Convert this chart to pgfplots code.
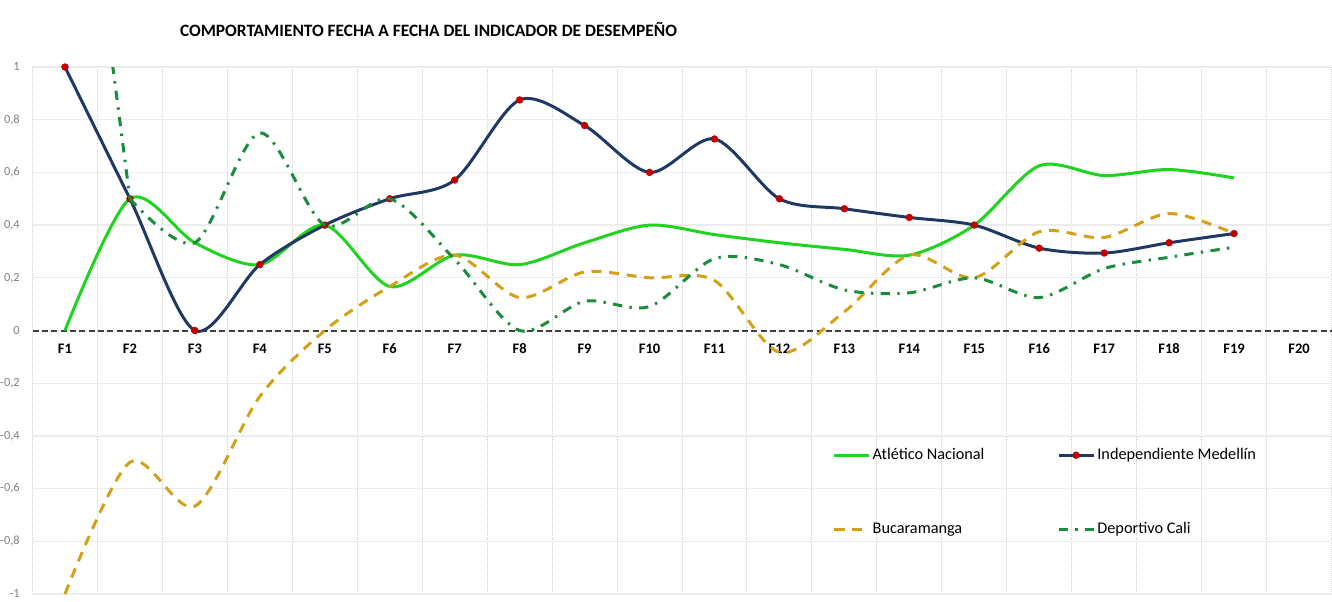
\documentclass[border=0pt]{standalone}
\usepackage{pgfplots}
\pgfplotsset{compat=1.18}
\usepackage{pgfplotstable}
\usepackage{fontspec}
\setmainfont{Carlito}
\definecolor{nacional}{HTML}{1FD41F}
\definecolor{medellin}{HTML}{203864}
\definecolor{mred}{HTML}{C00000}
\definecolor{bucara}{HTML}{D4A017}
\definecolor{cali}{HTML}{1A8C3C}
\definecolor{hgrid}{HTML}{ECECEC}
\definecolor{vgrid}{HTML}{CFCFCF}
\definecolor{ylab}{HTML}{808080}
\definecolor{zero}{HTML}{404040}

\pgfplotstableread{
x nac med buc cal
1 0 1 -1 2.4
2 0.5 0.5 -0.5 0.5
3 0.333 0 -0.667 0.333
4 0.25 0.25 -0.25 0.75
5 0.4 0.4 0 0.4
6 0.167 0.5 0.167 0.5
7 0.286 0.571 0.286 0.27
8 0.25 0.875 0.125 0
9 0.333 0.778 0.222 0.111
10 0.4 0.6 0.2 0.091
11 0.364 0.727 0.19 0.273
12 0.333 0.5 -0.083 0.25
13 0.308 0.462 0.071 0.154
14 0.286 0.429 0.286 0.143
15 0.4 0.4 0.2 0.2
16 0.625 0.3125 0.375 0.125
17 0.588 0.294 0.353 0.235
18 0.611 0.333 0.444 0.278
19 0.579 0.368 0.368 0.316
}\datatab

\begin{document}
\begin{tikzpicture}
\useasboundingbox (0,0) rectangle (999pt,450.75pt);
\node[inner sep=0pt] at (321.4pt,428.25pt) {\resizebox{372.75pt}{!}{\bfseries COMPORTAMIENTO FECHA A FECHA DEL INDICADOR DE DESEMPEÑO}};
\begin{axis}[
  at={(24.375pt,5.25pt)}, anchor=south west,
  scale only axis, width=974.25pt, height=395.25pt,
  xmin=0.5, xmax=20.5, ymin=-1, ymax=1,
  axis line style={draw=none},
  major tick length=0pt, minor tick length=0pt,
  tick style={draw=none},
  xtick={1,2,3,4,5,6,7,8,9,10,11,12,13,14,15,16,17,18,19,20},
  xticklabels={F1,F2,F3,F4,F5,F6,F7,F8,F9,F10,F11,F12,F13,F14,F15,F16,F17,F18,F19,F20},
  minor xtick={0.5,1.5,...,20.5},
  xminorgrids=true, xmajorgrids=false,
  minor x grid style={vgrid, line width=0.75pt, dash pattern=on 0.75pt off 0.75pt},
  ytick={-1,-0.8,-0.6,-0.4,-0.2,0,0.2,0.4,0.6,0.8,1},
  ymajorgrids=true,
  major y grid style={hgrid, line width=1pt},
  extra y ticks={0}, extra y tick labels={},
  extra y tick style={major y grid style={zero, line width=1.5pt, dash pattern=on 4.5pt off 2.5pt}},
  xticklabel style={font=\bfseries\fontsize{10.9}{12}\selectfont, anchor=center, inner sep=0pt, yshift=184pt},
  yticklabel style={/pgf/number format/fixed, /pgf/number format/precision=1,
     /pgf/number format/use comma, /pgf/number format/assume math mode=true,
     font=\fontsize{9.3}{11}\selectfont, color=ylab, anchor=east, inner sep=0pt, xshift=-9.4pt},
  clip mode=individual,
  legend columns=2,
  legend cell align=left,
  legend image code/.code={\draw[mark repeat=2,mark phase=2,#1] plot coordinates {(0pt,0pt) (13pt,0pt) (26pt,0pt)};},
  legend style={at={(axis cs:12.815,-0.614)}, anchor=west, draw=none, fill=none, inner sep=0pt,
     font=\fontsize{12.2}{14}\selectfont, row sep=42pt,
     /tikz/every even column/.append style={column sep=52.8pt},
     nodes={inner sep=1.8pt}},
]
\addplot[nacional, line width=2.25pt, smooth, no markers] table[x=x,y=nac]{\datatab};
\addlegendentry{Atlético Nacional}
\addplot[medellin, line width=2.25pt, smooth, mark=*, mark size=2.5pt, mark options={fill=mred, draw=mred, solid, line width=0.5pt}] table[x=x,y=med]{\datatab};
\addlegendentry{Independiente Medellín}
\addplot[bucara, line width=2.25pt, smooth, no markers, dash pattern=on 7.5pt off 5.75pt] table[x=x,y=buc]{\datatab};
\addlegendentry{Bucaramanga}
\addplot[cali, line width=2.25pt, smooth, no markers, dash pattern=on 7pt off 5.5pt on 1.8pt off 5.5pt, forget plot] table[x=x,y=cal, skip coords between index={2}{19}]{\datatab};
\addplot[cali, line width=2.25pt, smooth, no markers, dash pattern=on 7pt off 5.5pt on 1.8pt off 5.5pt] table[x=x,y=cal, skip coords between index={0}{1}]{\datatab};
\addlegendentry{Deportivo Cali}
\end{axis}
\end{tikzpicture}
\end{document}
